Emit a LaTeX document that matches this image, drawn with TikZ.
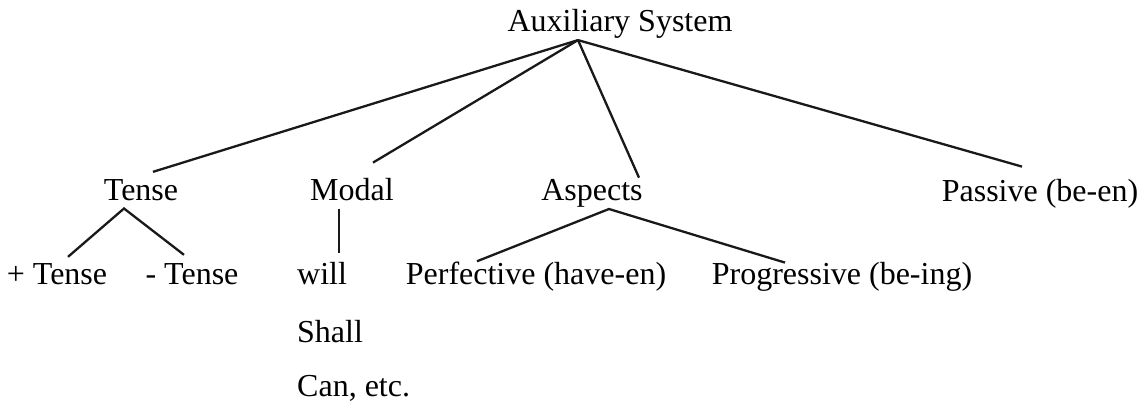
\documentclass[tikz,border=0pt]{standalone}
\usepackage{fontspec}
\setmainfont{Liberation Serif}
\begin{document}
\begin{tikzpicture}[x=1pt,y=1pt,
  lbl/.style={inner sep=0pt, anchor=base, font=\fontsize{32}{38}\selectfont},
  lblw/.style={lbl, anchor=base west},
  branch/.style={line width=2.3pt, color=black!90}]
\useasboundingbox (0,0) rectangle (1144,404);

% root
\node[lbl] (aux) at (620,372) {Auxiliary System};

% first level
\node[lbl] (tense)   at (141,203) {Tense};
\node[lbl] (modal)   at (352,203) {Modal};
\node[lbl] (aspects) at (592,203) {Aspects};
\node[lbl] (passive) at (1040,202) {Passive (be-en)};

% second level
\node[lbl]  (ptense) at (57,119)  {+ Tense};
\node[lbl]  (mtense) at (192,119) {- Tense};
\node[lblw] (will)   at (297,119) {will};
\node[lblw] (shall)  at (297,61)  {Shall};
\node[lblw] (can)    at (297,7)   {Can, etc.};
\node[lbl]  (perf)   at (536,119) {Perfective (have-en)};
\node[lbl]  (prog)   at (842,119) {Progressive (be-ing)};

% branches from the root
\coordinate (apex) at ([xshift=-42pt,yshift=-1pt]aux.south);
\draw[branch] (apex) -- ([xshift=12pt,yshift=8pt]tense.north);
\draw[branch] (apex) -- ([xshift=21pt,yshift=16pt]modal.north);
\draw[branch] (apex) -- ([xshift=47pt,yshift=2pt]aspects.north);
\draw[branch] (apex) -- ([xshift=-18pt,yshift=13pt]passive.north);

% tense
\draw[branch] ([xshift=11pt,yshift=7pt]ptense.north)
  -- ([xshift=-17pt,yshift=-7pt]tense.south)
  -- ([xshift=-8pt,yshift=9pt]mtense.north);

% modal
\coordinate (mtop) at ([xshift=-13pt,yshift=-7pt]modal.south);
\coordinate (wtop) at ([yshift=10pt]will.north);
\draw[branch] (mtop) -- (mtop |- wtop);

% aspects
\draw[branch] ([xshift=-59pt,yshift=1pt]perf.north)
  -- ([xshift=17pt,yshift=-1pt]aspects.south)
  -- ([xshift=-57pt]prog.north);
\end{tikzpicture}
\end{document}
